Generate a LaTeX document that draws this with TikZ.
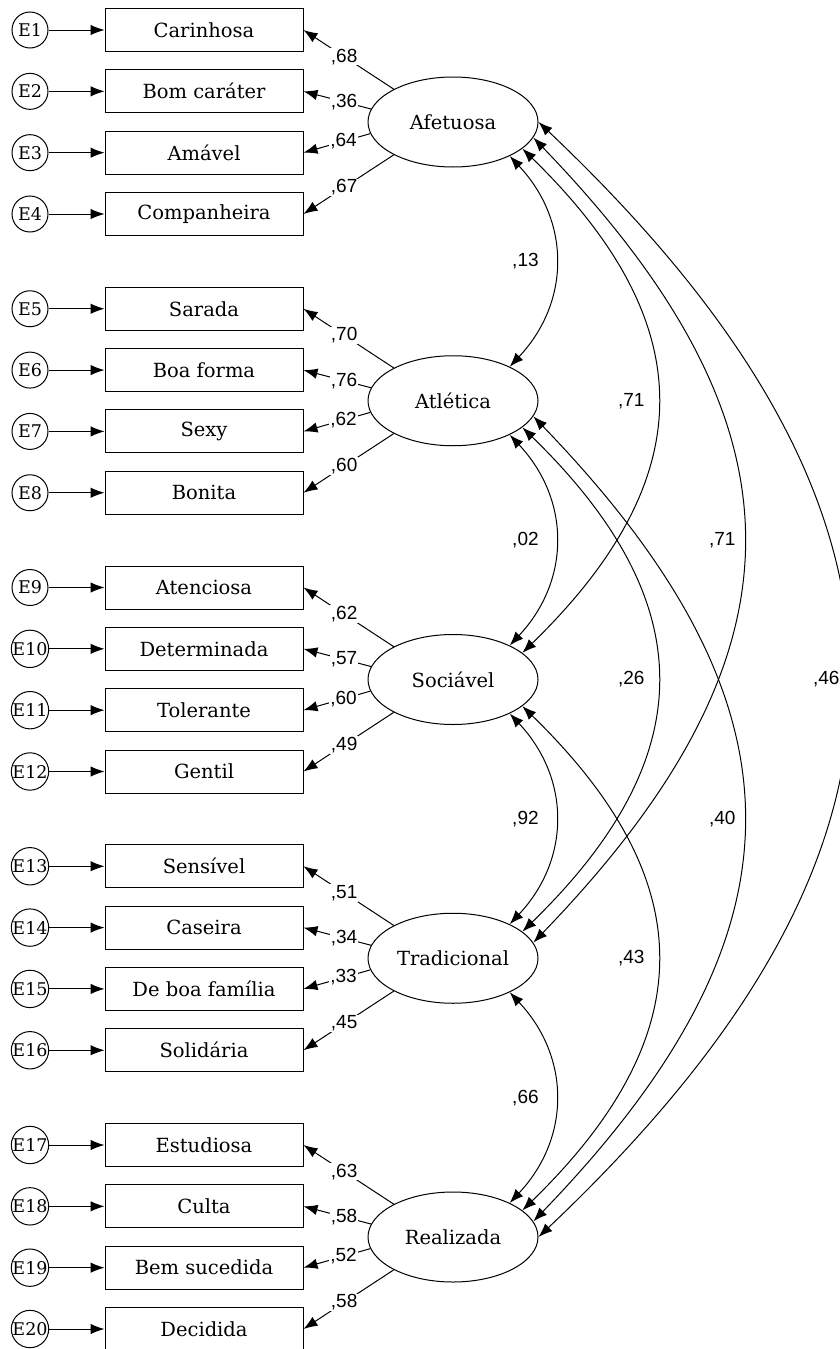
\documentclass[tikz,border=0pt]{standalone}
\usepackage{fontspec}
\setmainfont{DejaVu Serif}
\newfontfamily\numfont{Liberation Sans}
\usetikzlibrary{arrows.meta,shapes.geometric}

\tikzset{
  item/.style={draw,minimum width=198pt,minimum height=43pt,inner sep=0pt,font=\fontsize{19.5}{22}\selectfont},
  erro/.style={draw,circle,minimum size=36pt,inner sep=0pt,font=\fontsize{17.5}{19}\selectfont},
  fator/.style={draw,ellipse,minimum width=170pt,minimum height=90pt,inner sep=0pt,font=\fontsize{19.5}{22}\selectfont},
  carga/.style={fill=white,inner sep=1pt,font=\numfont\fontsize{19}{21}\selectfont},
  rotulo/.style={inner sep=1pt,font=\numfont\fontsize{19}{21}\selectfont},
}

\begin{document}
\begin{tikzpicture}[x=1pt,y=-1pt,line width=1pt,>={Latex[length=14pt,width=10.5pt]}]
\useasboundingbox (0,0) rectangle (839,1349);
%\draw[step=50,gray,very thin] (0,0) grid (839,1349);
% itens e erros
\foreach \nome [count=\i] in {Carinhosa,Bom caráter,Amável,Companheira,Sarada,Boa forma,Sexy,Bonita,Atenciosa,Determinada,Tolerante,Gentil,Sensível,Caseira,De boa família,Solidária,Estudiosa,Culta,Bem sucedida,Decidida}{
  \pgfmathsetmacro\yy{30+278.75*int((\i-1)/4)+61.333*mod(\i-1,4)}
  \node[item] (item\i) at (204,\yy) {\nome};
  \node[erro] (e\i) at (30,\yy) {E\i};
  \draw[->] (e\i) -- (item\i);
}
% fatores
\foreach \f/\nome/\yy in {afet/Afetuosa/122,atle/Atlética/400.75,soci/Sociável/679.5,trad/Tradicional/958.25,real/Realizada/1237}
  \node[fator] (\f) at (453,\yy) {\nome};
% cargas
\foreach \f/\i/\a/\b/\c/\d in {afet/1/68/36/64/67,atle/5/70/76/62/60,soci/9/62/57/60/49,trad/13/51/34/33/45,real/17/63/58/52/58}{
  \pgfmathtruncatemacro\ib{\i+1}
  \pgfmathtruncatemacro\ic{\i+2}
  \pgfmathtruncatemacro\id{\i+3}
  \draw[->] (\f.151) -- node[carga,pos=.55] {,\a} (item\i.east);
  \draw[->] (\f.171.5) -- node[carga,pos=.4] {,\b} (item\ib.east);
  \draw[->] (\f.188.5) -- node[carga,pos=.4] {,\c} (item\ic.east);
  \draw[->] (\f.209) -- node[carga,pos=.55] {,\d} (item\id.east);
}
% covariancias
\foreach \de/\para/\ang/\ca/\cb/\dx/\val in {afet/atle/31/61/65/-30/13,atle/soci/31/61/65/-30/02,soci/trad/31/61/65/-30/92,trad/real/31/61/65/-30/66,afet/soci/21/180/175/-26/71,atle/trad/21/180/175/-26/26,soci/real/21/180/175/-26/43,afet/trad/11/280/290/-21/71,atle/real/11/280/290/-21/40,afet/real/0/413/391/-22/46}
  \draw[<->] (\de.-\ang) .. controls +(\ca,\cb) and +(\ca,-\cb) .. (\para.\ang) node[rotulo,pos=.5,xshift=\dx pt] {,\val};
\end{tikzpicture}
\end{document}
